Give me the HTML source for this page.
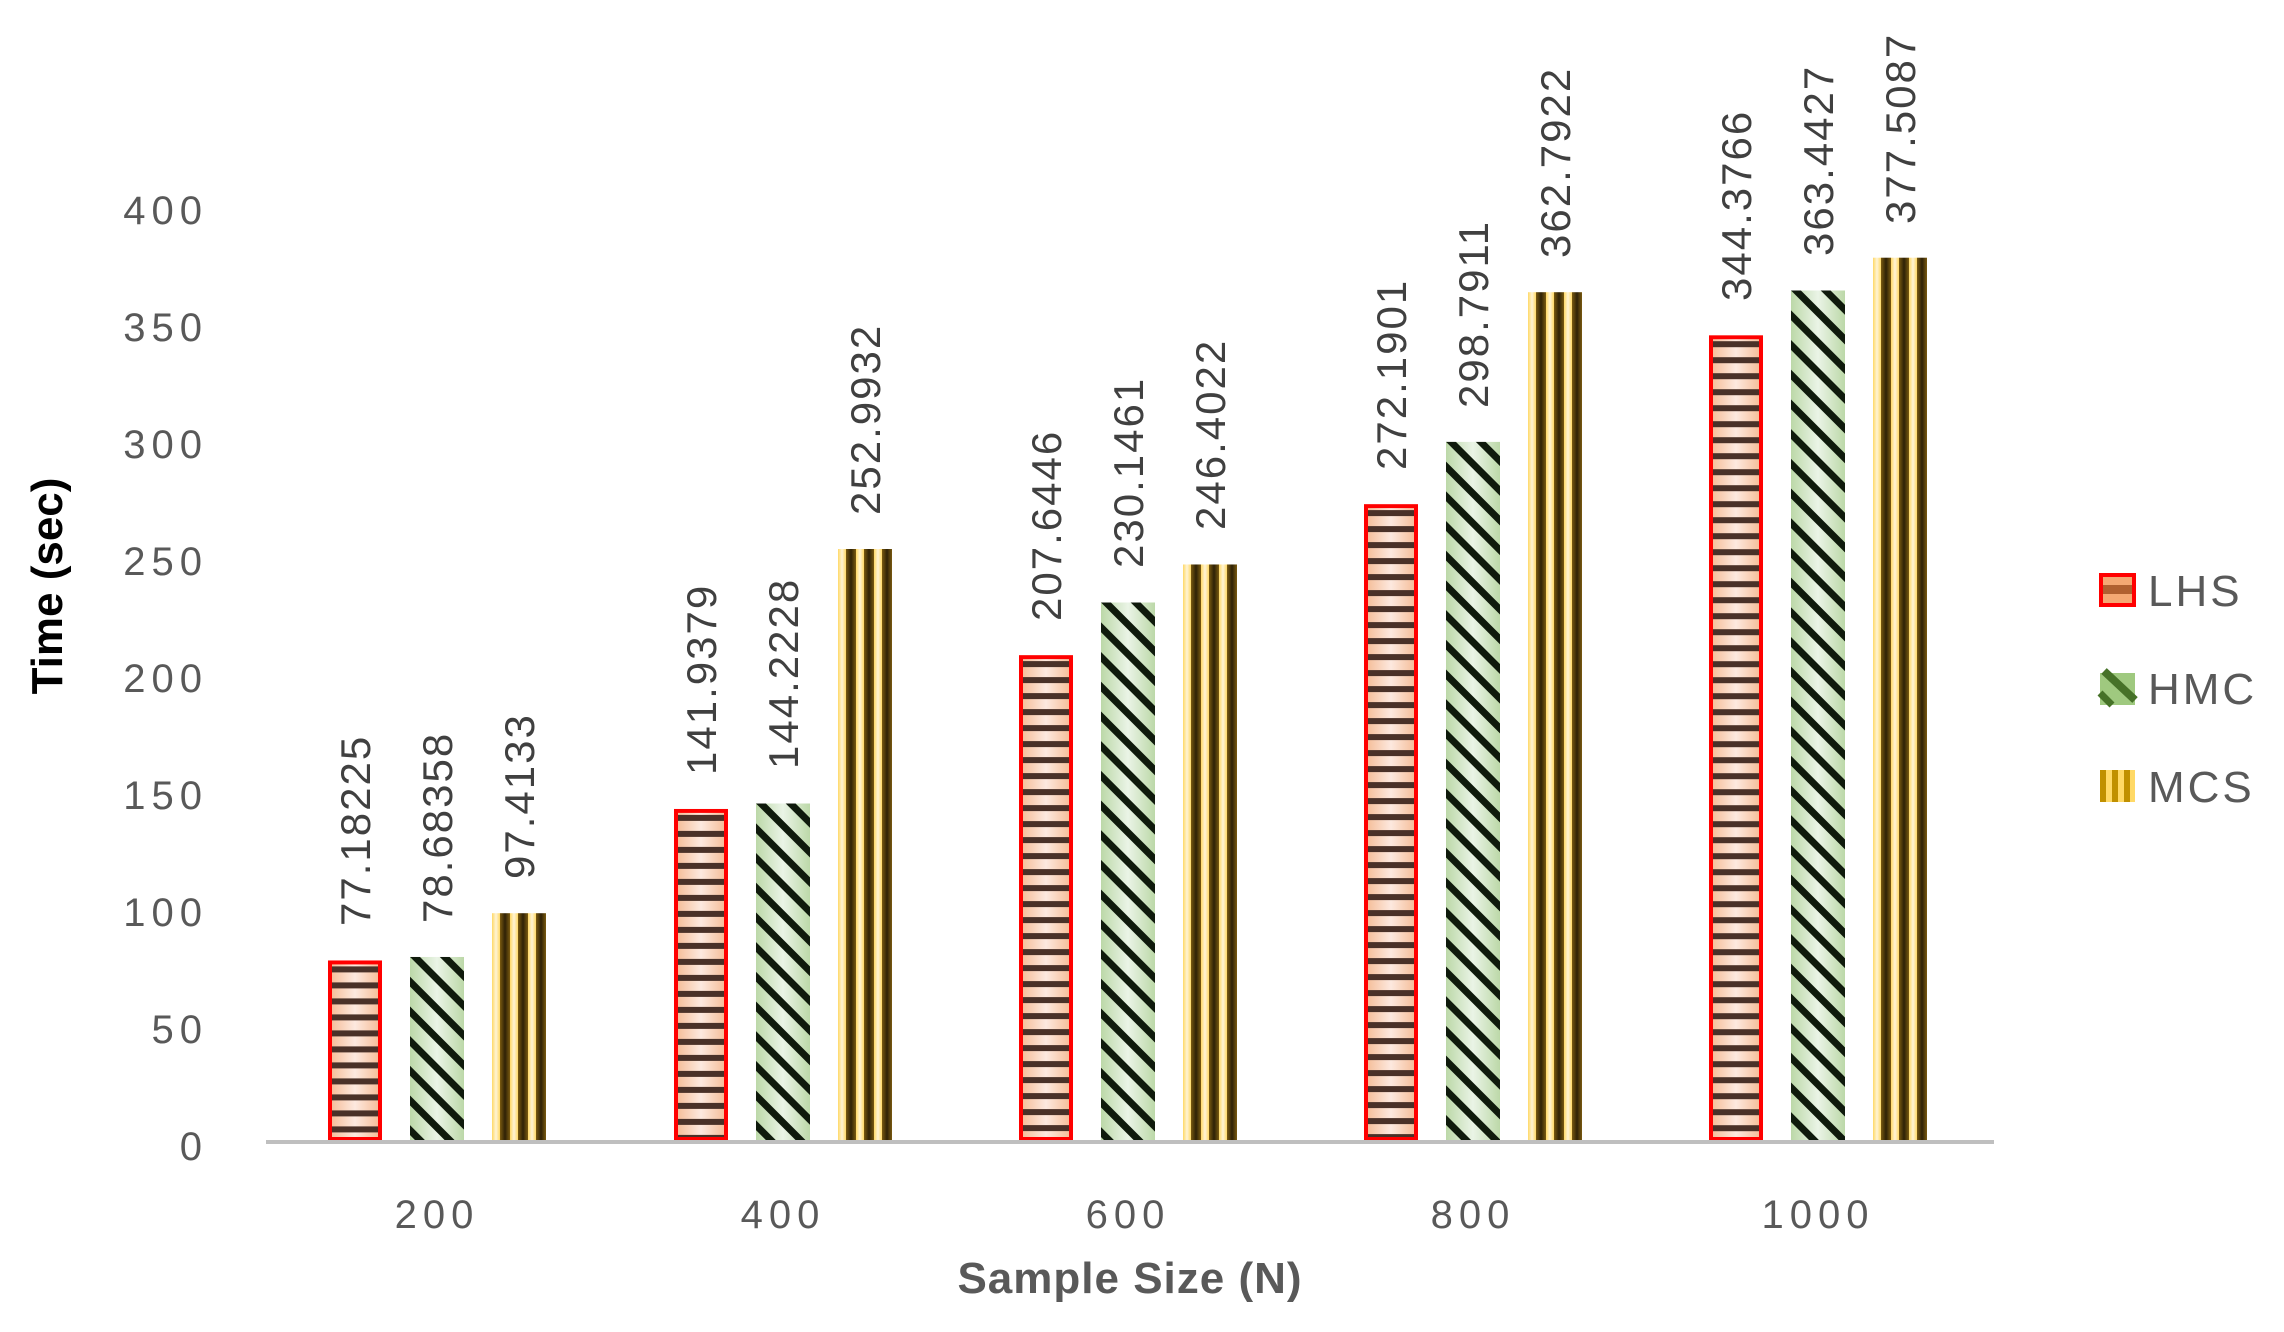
<!DOCTYPE html>
<html><head><meta charset="utf-8"><style>
html,body{margin:0;padding:0;background:#fff;width:2284px;height:1332px;overflow:hidden;}
svg{display:block;font-family:"Liberation Sans",sans-serif;}
</style></head><body>
<svg width="2284" height="1332" viewBox="0 0 2284 1332" xmlns="http://www.w3.org/2000/svg">
<defs>
<linearGradient id="gL" x1="0" x2="1" y1="0" y2="0"><stop offset="0" stop-color="#f4b890"/><stop offset="0.5" stop-color="#fde9df"/><stop offset="1" stop-color="#f4b890"/></linearGradient>
<linearGradient id="gH" x1="0" x2="1" y1="0" y2="0"><stop offset="0" stop-color="#bcd8a8"/><stop offset="0.5" stop-color="#eaf4e6"/><stop offset="1" stop-color="#bcd8a8"/></linearGradient>
<linearGradient id="gY" x1="0" x2="1" y1="0" y2="0"><stop offset="0" stop-color="#ffd966"/><stop offset="0.5" stop-color="#fff4d6"/><stop offset="1" stop-color="#ffd966"/></linearGradient>
<linearGradient id="gD" x1="0" x2="1" y1="0" y2="0"><stop offset="0" stop-color="#7a5a10"/><stop offset="0.5" stop-color="#2e2106"/><stop offset="1" stop-color="#7a5a10"/></linearGradient>
<pattern id="pL" width="16" height="16" patternUnits="userSpaceOnUse"><rect width="60" height="6" y="6" fill="#4a3128"/></pattern>
<pattern id="pH" width="21" height="21" patternUnits="userSpaceOnUse" patternTransform="rotate(-45)"><rect width="7" height="21" fill="#0f1a0c"/></pattern>
<pattern id="pM" width="18" height="20" patternUnits="userSpaceOnUse"><rect width="8" height="20" fill="url(#gY)"/><rect x="8" width="10" height="20" fill="url(#gD)"/></pattern>
<g id="L"><rect width="54" height="1000" fill="url(#gL)"/><rect width="54" height="1000" fill="url(#pL)"/></g>
<g id="H"><rect width="54" height="1000" fill="url(#gH)"/><rect width="54" height="1000" fill="url(#pH)"/></g>
<g id="M"><rect width="54" height="1000" fill="url(#pM)"/></g>
</defs>
<g font-size="40" fill="#595959" text-anchor="end" letter-spacing="6">
<text x="208" y="1160">0</text>
<text x="208" y="1043">50</text>
<text x="208" y="926">100</text>
<text x="208" y="809">150</text>
<text x="208" y="692">200</text>
<text x="208" y="575">250</text>
<text x="208" y="458">300</text>
<text x="208" y="341">350</text>
<text x="208" y="224">400</text>
</g>

<svg x="328" y="960.4" width="54" height="180.6"><use href="#L"/><rect x="2" y="2" width="50" height="176.6" fill="none" stroke="#ff0000" stroke-width="4"/></svg>
<svg x="410" y="956.9" width="54" height="184.1"><use href="#H"/></svg>
<svg x="492" y="913.1" width="54" height="227.9"><use href="#M"/></svg>
<svg x="674" y="808.9" width="54" height="332.1"><use href="#L"/><rect x="2" y="2" width="50" height="328.1" fill="none" stroke="#ff0000" stroke-width="4"/></svg>
<svg x="756" y="803.5" width="54" height="337.5"><use href="#H"/></svg>
<svg x="838" y="549" width="54" height="592"><use href="#M"/></svg>
<svg x="1019" y="655.1" width="54" height="485.9"><use href="#L"/><rect x="2" y="2" width="50" height="481.9" fill="none" stroke="#ff0000" stroke-width="4"/></svg>
<svg x="1101" y="602.5" width="54" height="538.5"><use href="#H"/></svg>
<svg x="1183" y="564.4" width="54" height="576.6"><use href="#M"/></svg>
<svg x="1364" y="504.1" width="54" height="636.9"><use href="#L"/><rect x="2" y="2" width="50" height="632.9" fill="none" stroke="#ff0000" stroke-width="4"/></svg>
<svg x="1446" y="441.8" width="54" height="699.2"><use href="#H"/></svg>
<svg x="1528" y="292.1" width="54" height="848.9"><use href="#M"/></svg>
<svg x="1709" y="335.2" width="54" height="805.8"><use href="#L"/><rect x="2" y="2" width="50" height="801.8" fill="none" stroke="#ff0000" stroke-width="4"/></svg>
<svg x="1791" y="290.5" width="54" height="850.5"><use href="#H"/></svg>
<svg x="1873" y="257.6" width="54" height="883.4"><use href="#M"/></svg>

<g font-size="42" fill="#404040" letter-spacing="2">
<text transform="translate(370,926) rotate(-90)">77.18225</text>
<text transform="translate(452,923) rotate(-90)">78.68358</text>
<text transform="translate(534,879) rotate(-90)">97.4133</text>
<text transform="translate(716,775) rotate(-90)">141.9379</text>
<text transform="translate(798,769) rotate(-90)">144.2228</text>
<text transform="translate(880,515) rotate(-90)">252.9932</text>
<text transform="translate(1061,621) rotate(-90)">207.6446</text>
<text transform="translate(1143,568) rotate(-90)">230.1461</text>
<text transform="translate(1225,530) rotate(-90)">246.4022</text>
<text transform="translate(1406,470) rotate(-90)">272.1901</text>
<text transform="translate(1488,408) rotate(-90)">298.7911</text>
<text transform="translate(1570,258) rotate(-90)">362.7922</text>
<text transform="translate(1751,301) rotate(-90)">344.3766</text>
<text transform="translate(1833,256) rotate(-90)">363.4427</text>
<text transform="translate(1915,224) rotate(-90)">377.5087</text>
</g>

<rect x="266" y="1140" width="1728" height="4" fill="#bfbfbf"/>
<g font-size="40" fill="#595959" text-anchor="middle" letter-spacing="6">
<text x="437" y="1228">200</text>
<text x="783" y="1228">400</text>
<text x="1128" y="1228">600</text>
<text x="1473" y="1228">800</text>
<text x="1818" y="1228">1000</text>
</g>
<text x="1130" y="1293" font-size="44" font-weight="bold" fill="#595959" text-anchor="middle" letter-spacing="1">Sample Size (N)</text>
<text transform="translate(62,586) rotate(-90)" font-size="44" font-weight="bold" fill="#000" text-anchor="middle">Time (sec)</text>
<g>
<rect x="2101" y="575" width="33" height="30" fill="#f4a873" stroke="#ff0000" stroke-width="4"/>
<rect x="2103" y="585" width="29" height="9" fill="#b06030"/>
<rect x="2100" y="673" width="35" height="32" fill="#9fc97f"/>
<line x1="2104" y1="671" x2="2135" y2="700" stroke="#467228" stroke-width="8"/>
<line x1="2100" y1="693" x2="2112" y2="705" stroke="#467228" stroke-width="7"/>
<rect x="2100" y="770" width="35" height="32" fill="#ffd966"/>
<rect x="2100" y="770" width="6" height="32" fill="#c09000"/>
<rect x="2112" y="770" width="6" height="32" fill="#c09000"/>
<rect x="2124" y="770" width="6" height="32" fill="#c09000"/>
<g font-size="44" fill="#595959" letter-spacing="3">
<text x="2148" y="606">LHS</text>
<text x="2148" y="704">HMC</text>
<text x="2148" y="802">MCS</text>
</g>
</g>
</svg>
</body></html>
